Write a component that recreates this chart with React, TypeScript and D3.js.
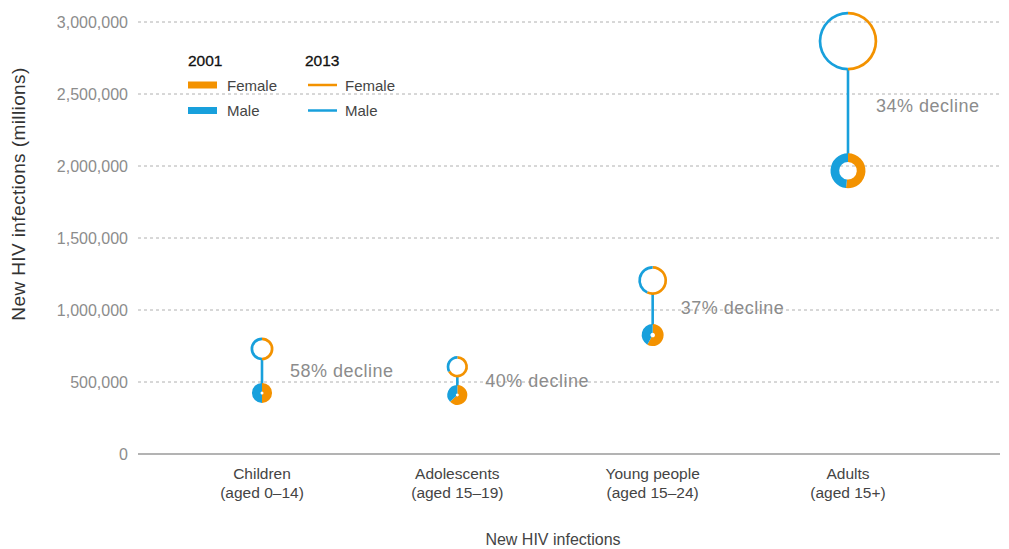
import React from "react";
import * as d3 from "d3";

const categories = ["Children", "Adolescents", "Young people", "Adults"];
const categoryAges = ["(aged 0–14)", "(aged 15–19)", "(aged 15–24)", "(aged 15+)"];
const declineLabels = ["58% decline", "40% decline", "37% decline", "34% decline"];

// upper (hollow ring) values
const upperFemale = [365000, 405000, 685000, 1435000];
const upperMale = [365000, 201000, 520000, 1432000];
// lower (filled donut) values
const lowerFemale = [212000, 258000, 480000, 1020000];
const lowerMale = [212000, 152000, 346000, 947000];

const yTicks = [0, 500000, 1000000, 1500000, 2000000, 2500000, 3000000];

const ORANGE = "#F39200";
const BLUE = "#18A0DC";
const FONT = "'Liberation Sans', Arial, Helvetica, sans-serif";

export default function App() {
  const W = 1009;
  const H = 549;
  const x0 = 138;
  const x1 = 1000;

  const y = d3.scaleLinear().domain([0, 3000000]).range([454, 22]);
  const x = d3.scalePoint<string>().domain(categories).range([262, 848]);

  const ringR = d3.scaleLinear().domain([500000, 1200000, 2900000]).range([10, 14.4, 29.6]);
  const donutR = d3.scaleLinear().domain([400000, 830000, 1970000]).range([10, 11, 17.5]);

  const pie = d3.pie<number>().sort(null).value((d) => d).startAngle(0).endAngle(2 * Math.PI);
  const fmt = d3.format(",");

  const ringStroke = 2.7;

  return (
    <svg
      width={W}
      height={H}
      style={{ position: "absolute", left: 0, top: 0, display: "block", background: "#fff" }}
      fontFamily={FONT}
    >
      {/* grid */}
      {yTicks.map((t) =>
        t === 0 ? (
          <line key={t} x1={x0} x2={x1} y1={y(t)} y2={y(t)} stroke="#b3b3b3" strokeWidth={2} />
        ) : (
          <line
            key={t}
            x1={x0}
            x2={x1}
            y1={y(t)}
            y2={y(t)}
            stroke="#b0b0b0"
            strokeWidth={1}
            strokeDasharray="3,3"
          />
        )
      )}
      {yTicks.map((t) => (
        <text
          key={"l" + t}
          x={128}
          y={y(t)}
          dy="0.35em"
          textAnchor="end"
          fontSize={16}
          fill="#8c8c8c"
        >
          {fmt(t)}
        </text>
      ))}

      {/* axis titles */}
      <text
        transform={`translate(25,${194}) rotate(-90)`}
        textAnchor="middle"
        fontSize={19}
        letterSpacing={0.4}
        fill="#333"
      >
        New HIV infections (millions)
      </text>
      <text x={553} y={545} textAnchor="middle" fontSize={16} fill="#444">
        New HIV infections
      </text>

      {/* category labels */}
      {categories.map((c, i) => (
        <g key={c}>
          <text x={x(c)} y={479} textAnchor="middle" fontSize={15.5} fill="#444">
            {c}
          </text>
          <text x={x(c)} y={498} textAnchor="middle" fontSize={15.5} fill="#444">
            {categoryAges[i]}
          </text>
        </g>
      ))}

      {/* dumbbells */}
      {categories.map((c, i) => {
        const cx = x(c) as number;
        const upTotal = upperFemale[i] + upperMale[i];
        const loTotal = lowerFemale[i] + lowerMale[i];
        const uy = y(upTotal);
        const ly = y(loTotal);
        const rO = ringR(upTotal);
        const rMid = rO - ringStroke / 2;
        const dO = donutR(loTotal);
        const dI = Math.max(1.5, dO - 8.7);
        const upArcs = pie([upperFemale[i], upperMale[i]]);
        const loArcs = pie([lowerFemale[i], lowerMale[i]]);
        const ringArc = d3.arc<d3.PieArcDatum<number>>().innerRadius(rO - ringStroke).outerRadius(rO);
        const donutArc = d3.arc<d3.PieArcDatum<number>>().innerRadius(dI).outerRadius(dO);
        return (
          <g key={"d" + c}>
            <line x1={cx} x2={cx} y1={uy + rMid} y2={ly - dO + 1} stroke={BLUE} strokeWidth={2.6} />
            <g transform={`translate(${cx},${uy})`}>
              {upArcs.map((a, j) => (
                <path key={j} d={ringArc(a) as string} fill={j === 0 ? ORANGE : BLUE} />
              ))}
            </g>
            <g transform={`translate(${cx},${ly})`}>
              {loArcs.map((a, j) => (
                <path key={j} d={donutArc(a) as string} fill={j === 0 ? ORANGE : BLUE} />
              ))}
            </g>
            <text
              x={cx + 28}
              y={(uy + ly) / 2}
              dy="0.35em"
              fontSize={18}
              letterSpacing={0.5}
              fill="#8c8c8c"
            >
              {declineLabels[i]}
            </text>
          </g>
        );
      })}

      {/* legend */}
      <g fontSize={15} fill="#444">
        <text x={188} y={66} fontSize={15.5} fill="#111" stroke="#111" strokeWidth={0.3}>2001</text>
        <text x={305} y={66} fontSize={15.5} fill="#111" stroke="#111" strokeWidth={0.3}>2013</text>
        <rect x={188} y={81.5} width={29} height={7} fill={ORANGE} />
        <rect x={188} y={107} width={29} height={7} fill={BLUE} />
        <text x={227} y={90.5}>Female</text>
        <text x={227} y={116}>Male</text>
        <line x1={308} x2={337} y1={85} y2={85} stroke={ORANGE} strokeWidth={2.5} />
        <line x1={308} x2={337} y1={110.5} y2={110.5} stroke={BLUE} strokeWidth={2.5} />
        <text x={345} y={90.5}>Female</text>
        <text x={345} y={116}>Male</text>
      </g>
    </svg>
  );
}
